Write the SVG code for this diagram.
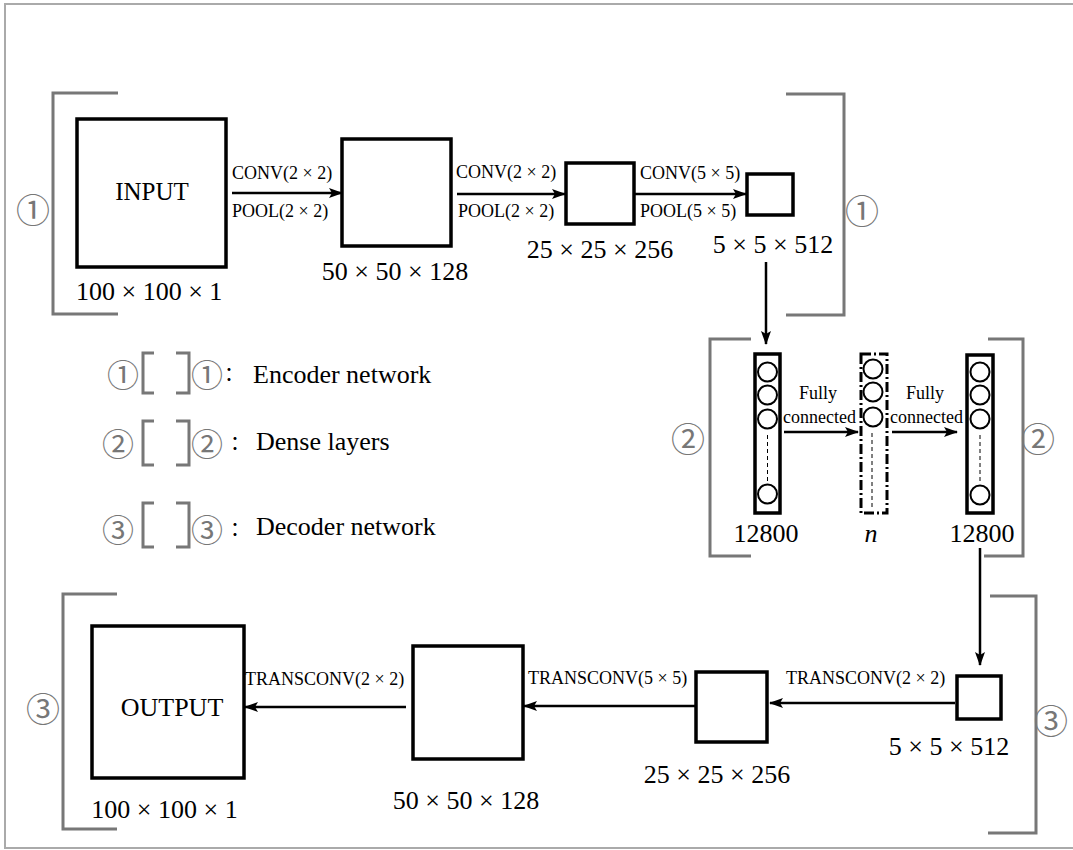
<svg xmlns="http://www.w3.org/2000/svg" width="1073" height="850" viewBox="0 0 1073 850">
<defs>
<marker id="ah" markerUnits="userSpaceOnUse" markerWidth="14" markerHeight="10" refX="13" refY="5" orient="auto">
<path d="M0,0 L14,5 L0,10 L3,5 Z" fill="#000"/>
</marker>
<style>
.t{font-family:"Liberation Serif","Times New Roman",serif;fill:#000}
.s{font-size:18px}
.d{font-size:26px}
.c{font-family:"Noto Sans CJK SC","DejaVu Sans",sans-serif;font-size:34px;fill:#777;text-anchor:middle;dominant-baseline:central}
.lc{font-size:32px}
.col{font-family:"Noto Sans CJK SC",sans-serif;font-size:20px;fill:#000;text-anchor:middle}
.m{text-anchor:middle}
.box{fill:#fff;stroke:#000;stroke-width:3.5}
.br{fill:none;stroke:#777;stroke-width:3}
.ln{fill:none;stroke:#000;stroke-width:2.5}
.nd{fill:#fff;stroke:#000;stroke-width:2}
.dl{stroke:#000;stroke-width:1;stroke-dasharray:4 3}
</style>
</defs>
<rect x="0" y="0" width="1073" height="850" fill="#fff"/>
<rect x="5" y="4" width="1070" height="844" fill="none" stroke="#aaa" stroke-width="2"/>

<g id="brackets">
<path class="br" d="M118,93 H53 V314 H118"/>
<path class="br" d="M786,94 H844 V315 H786"/>
<path class="br" d="M751,339 H710 V556 H751"/>
<path class="br" d="M988,339 H1023 V556 H984"/>
<path class="br" d="M117,594 H63 V829 H117"/>
<path class="br" d="M990,596 H1036 V833 H988"/>
<text class="c" x="33" y="208">①</text>
<text class="c" x="862" y="209">①</text>
<text class="c" x="688" y="437">②</text>
<text class="c" x="1038" y="437">②</text>
<text class="c" x="43" y="707">③</text>
<text class="c" x="1051" y="719">③</text>
</g>

<g id="input">
<rect class="box" x="77" y="119" width="149" height="148"/>
<text class="t m" x="152" y="200" font-size="25">INPUT</text>
<text class="t d" x="76" y="300">100 × 100 × 1</text>
</g>
<g id="enc2">
<rect class="box" x="342" y="139" width="109" height="107"/>
<text class="t d m" x="395" y="280">50 × 50 × 128</text>
</g>
<g id="enc3">
<rect class="box" x="566" y="163" width="68" height="61"/>
<text class="t d m" x="600" y="258">25 × 25 × 256</text>
</g>
<g id="enc4">
<rect class="box" x="747" y="174" width="46" height="41"/>
<text class="t d m" x="773" y="253">5 × 5 × 512</text>
</g>

<g id="dense1">
<rect class="box" x="755" y="354" width="25" height="159"/>
<circle class="nd" cx="767.5" cy="372" r="9.5"/>
<circle class="nd" cx="767.5" cy="395" r="9.5"/>
<circle class="nd" cx="767.5" cy="419" r="9.5"/>
<line class="dl" x1="767.5" y1="435" x2="767.5" y2="483"/>
<circle class="nd" cx="767.5" cy="494" r="9.5"/>
<text class="t d m" x="766" y="542">12800</text>
</g>
<g id="dense2">
<rect x="861" y="354" width="26" height="159" fill="#fff" stroke="#000" stroke-width="3" stroke-dasharray="10 3 2 3"/>
<circle class="nd" cx="873" cy="369" r="9.5"/>
<circle class="nd" cx="873" cy="392" r="9.5"/>
<circle class="nd" cx="873" cy="417" r="9.5"/>
<line class="dl" x1="872" y1="433" x2="872" y2="507"/>
<text class="t d m" x="871" y="542" font-style="italic">n</text>
</g>
<g id="dense3">
<rect class="box" x="967" y="355" width="26" height="158"/>
<circle class="nd" cx="980" cy="372" r="9.5"/>
<circle class="nd" cx="980" cy="395" r="9.5"/>
<circle class="nd" cx="980" cy="419" r="9.5"/>
<line class="dl" x1="980" y1="435" x2="980" y2="483"/>
<circle class="nd" cx="980" cy="495" r="9.5"/>
<text class="t d m" x="982" y="542">12800</text>
</g>

<g id="dec1">
<rect class="box" x="957" y="676" width="44" height="43"/>
<text class="t d m" x="949" y="755">5 × 5 × 512</text>
</g>
<g id="dec2">
<rect class="box" x="696" y="672" width="71" height="70"/>
<text class="t d m" x="717" y="783">25 × 25 × 256</text>
</g>
<g id="dec3">
<rect class="box" x="413" y="646" width="110" height="113"/>
<text class="t d m" x="466" y="809">50 × 50 × 128</text>
</g>
<g id="output">
<rect class="box" x="92" y="626" width="152" height="152"/>
<text class="t d m" x="172" y="716">OUTPUT</text>
<text class="t d m" x="164.5" y="818">100 × 100 × 1</text>
</g>

<g id="connectors">
<line class="ln" x1="232" y1="193" x2="342" y2="193" marker-end="url(#ah)"/>
<line class="ln" x1="457" y1="194" x2="565" y2="194" marker-end="url(#ah)"/>
<line class="ln" x1="634" y1="194" x2="746" y2="194" marker-end="url(#ah)"/>
<line class="ln" x1="766" y1="262" x2="766" y2="344" marker-end="url(#ah)"/>
<line class="ln" x1="784" y1="432" x2="858" y2="432" marker-end="url(#ah)"/>
<line class="ln" x1="892" y1="432" x2="957" y2="432" marker-end="url(#ah)"/>
<line class="ln" x1="980" y1="548" x2="980" y2="665" marker-end="url(#ah)"/>
<line class="ln" x1="955" y1="703" x2="770" y2="703" marker-end="url(#ah)"/>
<line class="ln" x1="696" y1="706" x2="524" y2="706" marker-end="url(#ah)"/>
<line class="ln" x1="406" y1="707" x2="245" y2="707" marker-end="url(#ah)"/>
<text class="t s" x="232" y="179">CONV(2 × 2)</text>
<text class="t s" x="232" y="217">POOL(2 × 2)</text>
<text class="t s" x="456" y="178">CONV(2 × 2)</text>
<text class="t s" x="458" y="217">POOL(2 × 2)</text>
<text class="t s" x="640" y="179">CONV(5 × 5)</text>
<text class="t s" x="640" y="217">POOL(5 × 5)</text>
<text class="t s m" x="818" y="399">Fully</text>
<text class="t s" x="783" y="423">connected</text>
<text class="t s m" x="925" y="399">Fully</text>
<text class="t s" x="890" y="423">connected</text>
<text class="t s" x="786" y="684">TRANSCONV(2 × 2)</text>
<text class="t s" x="528" y="684">TRANSCONV(5 × 5)</text>
<text class="t s" x="245" y="685">TRANSCONV(2 × 2)</text>
</g>

<g id="legend">
<text class="c lc" x="123" y="373">①</text>
<path class="br" d="M154,353 H143 V393 H154 M176,353 H189 V393 H176"/>
<text class="c lc" x="207" y="373">①</text>
<text class="col" x="234" y="381">：</text>
<text class="t d" x="253" y="383">Encoder network</text>
<text class="c lc" x="118" y="442">②</text>
<path class="br" d="M154,421 H143 V465 H154 M176,421 H189 V465 H176"/>
<text class="c lc" x="207" y="442">②</text>
<text class="col" x="240" y="450">：</text>
<text class="t d" x="256" y="450">Dense layers</text>
<text class="c lc" x="118" y="528">③</text>
<path class="br" d="M154,503 H143 V547 H154 M176,503 H189 V547 H176"/>
<text class="c lc" x="207" y="528">③</text>
<text class="col" x="240" y="536">：</text>
<text class="t d" x="256" y="535">Decoder network</text>
</g>
</svg>
